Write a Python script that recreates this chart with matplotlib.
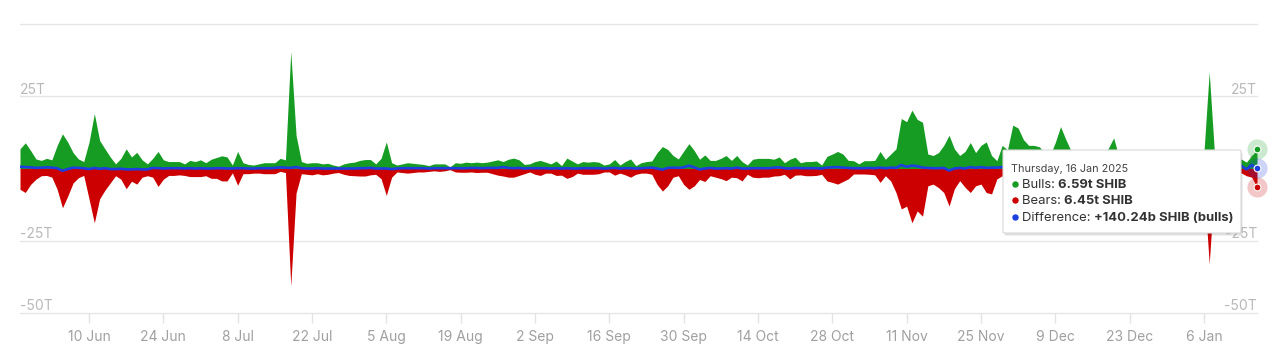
import matplotlib
matplotlib.use("Agg")
import matplotlib.pyplot as plt
from matplotlib.patches import FancyBboxPatch
from matplotlib.lines import Line2D
import numpy as np
import pandas as pd

# daily values in trillions of SHIB, 28 May 2024 -> 16 Jan 2025
start_date = "2024-05-28"

bulls = [
    6.8, 8.9, 6.2, 3.3, 2.8, 3.5, 3.0, 8.0, 12.0, 9.1,
    5.5, 3.3, 2.4, 9.1, 19.0, 9.7, 6.8, 4.0, 1.6, 3.5,
    6.8, 4.0, 5.6, 3.0, 1.6, 3.5, 5.9, 3.0, 2.4, 2.4,
    2.4, 1.6, 2.8, 2.4, 3.0, 2.0, 3.2, 3.8, 4.4, 4.0,
    1.2, 5.9, 2.0, 1.4, 1.2, 1.6, 2.0, 2.0, 2.0, 3.5,
    3.0, 40.5, 11.5, 2.4, 1.8, 2.0, 2.0, 1.6, 1.8, 1.2,
    0.8, 1.6, 2.0, 2.2, 2.8, 3.1, 3.1, 1.6, 3.5, 9.2,
    2.0, 1.2, 1.6, 2.0, 1.8, 1.6, 1.4, 1.0, 1.6, 1.6,
    1.6, 0.6, 2.0, 1.8, 2.2, 2.0, 2.2, 2.0, 2.2, 2.6,
    3.0, 2.4, 3.2, 3.6, 3.0, 1.4, 1.6, 2.4, 2.8, 2.2,
    1.6, 2.6, 1.0, 3.6, 2.6, 1.6, 2.4, 2.2, 2.4, 2.2,
    1.2, 1.6, 3.1, 1.2, 2.4, 3.3, 1.0, 2.0, 2.4, 2.6,
    5.5, 7.6, 6.6, 4.5, 3.3, 6.0, 8.6, 6.2, 3.2, 4.7,
    2.8, 2.8, 3.5, 4.5, 2.8, 4.5, 2.4, 1.2, 3.2, 3.5,
    3.5, 3.5, 3.2, 4.0, 2.0, 3.2, 3.9, 2.0, 2.4, 2.4,
    2.6, 1.2, 4.2, 5.0, 5.9, 5.0, 2.8, 2.7, 1.6, 2.7,
    2.7, 2.8, 5.9, 3.2, 5.0, 6.8, 17.3, 16.2, 20.2, 17.0,
    16.0, 5.0, 4.5, 5.5, 8.0, 11.5, 6.8, 4.5, 5.9, 9.0,
    5.5, 8.0, 9.2, 4.5, 2.7, 8.0, 6.5, 15.0, 14.0, 10.0,
    8.0, 8.0, 7.5, 5.5, 4.5, 9.0, 14.5, 10.0, 6.0, 4.0,
    3.5, 4.0, 3.0, 4.0, 5.0, 7.0, 10.6, 4.0, 3.0, 3.5,
    2.5, 3.0, 4.0, 3.0, 2.5, 3.5, 3.0, 2.5, 3.0, 4.0,
    3.0, 2.5, 4.0, 5.5, 33.4, 5.0, 3.0, 2.5, 3.0, 2.0,
    3.3, 2.2, 4.4, 6.59,
]

bears = [
    7.2, 8.3, 5.5, 3.7, 2.5, 2.4, 3.0, 7.2, 13.6, 9.5,
    5.0, 3.2, 2.4, 10.5, 18.8, 10.5, 7.5, 5.0, 2.5, 3.7,
    7.0, 4.4, 5.4, 3.0, 2.5, 3.0, 6.2, 3.7, 2.4, 2.4,
    2.2, 2.4, 2.8, 2.8, 2.8, 2.5, 3.4, 3.4, 4.3, 4.3,
    1.5, 5.8, 1.8, 1.8, 1.6, 1.6, 1.8, 1.8, 1.8, 1.0,
    1.4, 40.6, 8.5, 1.8, 2.0, 2.2, 1.8, 2.2, 2.0, 1.6,
    1.4, 2.0, 2.4, 2.5, 2.6, 2.6, 2.2, 2.0, 3.5, 9.3,
    3.0, 1.2, 1.4, 1.6, 1.4, 1.2, 1.2, 1.0, 0.8, 1.0,
    0.8, 0.4, 1.2, 1.3, 1.3, 1.2, 1.4, 1.3, 1.3, 1.8,
    2.3, 2.6, 3.0, 3.0, 2.4, 1.8, 1.2, 2.0, 2.4, 1.6,
    1.6, 2.4, 2.3, 3.4, 2.8, 1.6, 2.0, 2.0, 2.0, 1.8,
    1.2, 1.2, 2.3, 1.6, 2.2, 3.0, 2.0, 1.6, 1.6, 2.0,
    5.5, 7.8, 6.0, 3.0, 2.5, 5.5, 7.2, 6.0, 3.8, 4.5,
    2.5, 3.0, 3.5, 4.2, 3.0, 3.2, 4.3, 2.0, 3.0, 3.2,
    3.0, 3.0, 2.6, 2.5, 2.0, 3.6, 2.3, 2.2, 2.5, 2.5,
    2.4, 2.0, 4.3, 4.8, 5.4, 4.5, 3.6, 1.9, 1.9, 1.9,
    2.0, 2.2, 4.8, 2.5, 4.3, 8.3, 14.0, 13.0, 18.8, 14.7,
    16.5, 6.0, 5.4, 6.6, 8.3, 13.0, 7.0, 4.2, 6.5, 8.3,
    6.0, 5.4, 8.3, 8.8, 3.6, 2.5, 6.0, 12.0, 11.0, 8.0,
    7.0, 6.5, 6.0, 5.0, 4.0, 7.0, 11.0, 8.0, 5.0, 3.5,
    3.0, 3.5, 3.0, 3.5, 4.5, 6.0, 9.0, 3.5, 3.0, 3.0,
    2.5, 3.0, 3.5, 3.0, 2.5, 3.0, 3.0, 2.5, 3.0, 3.5,
    3.0, 2.5, 3.5, 5.0, 33.0, 5.0, 3.0, 2.5, 3.0, 2.5,
    1.5, 2.5, 3.0, 6.45,
]

diff = [
    0.6, 0.5, 0.4, 0.2, 0.3, 0.4, 0.3, 0.1, -0.8, -0.2,
    0.3, 0.2, 0.1, -0.2, 0.2, -0.1, 0.1, -0.2, -0.2, -0.1,
    -0.3, -0.3, -0.2, -0.3, -0.3, 0.2, 0.1, 0.0, 0.1, 0.1,
    0.1, 0.0, 0.1, 0.0, 0.1, 0.0, 0.0, 0.1, 0.1, 0.0,
    0.0, 0.1, 0.1, 0.0, 0.0, 0.1, 0.1, 0.1, 0.2, 0.4,
    0.3, 0.2, 0.5, 0.1, 0.0, 0.0, 0.1, 0.0, 0.0, 0.0,
    0.0, 0.0, 0.0, 0.0, 0.1, 0.1, 0.2, 0.0, 0.0, 0.0,
    -0.2, 0.0, 0.1, 0.1, 0.1, 0.1, 0.1, 0.0, 0.1, 0.1,
    0.1, 0.1, 0.1, 0.1, 0.1, 0.2, 0.2, 0.1, 0.2, 0.2,
    0.2, 0.5, 0.2, 0.1, 0.2, 0.0, 0.1, 0.1, 0.1, 0.1,
    0.0, 0.1, 0.0, 0.1, 0.0, 0.0, 0.1, 0.1, 0.1, 0.1,
    0.0, 0.1, 0.2, 0.0, 0.1, 0.1, 0.0, 0.1, 0.2, 0.3,
    0.0, -0.4, 0.2, 0.3, 0.2, 0.4, 1.0, 0.4, -0.3, 0.0,
    0.2, 0.0, 0.0, 0.1, 0.0, 0.3, 0.0, 0.0, 0.1, 0.1,
    0.1, 0.1, 0.3, 0.4, 0.1, 0.0, 0.2, 0.1, 0.1, 0.1,
    0.1, 0.0, 0.3, 0.4, 0.5, 0.3, 0.2, 0.1, 0.1, 0.1,
    0.2, 0.1, 0.3, 0.1, 0.3, 0.2, 1.2, 0.6, 1.0, 0.8,
    0.3, 0.2, 0.1, 0.1, 0.2, -0.7, 0.0, 0.2, 0.0, 0.5,
    0.2, 0.5, 0.2, 0.3, 0.3, 0.5, 0.5, 0.5, 0.3, 0.4,
    0.3, 0.3, 0.2, 0.2, 0.3, 0.4, 0.3, 0.3, 0.2, 0.2,
    0.2, 0.3, 0.2, 0.3, 0.3, 0.4, 0.4, 0.3, 0.2, 0.2,
    0.2, 0.2, 0.3, 0.2, 0.2, 0.3, 0.2, 0.2, 0.2, 0.3,
    0.2, 0.2, 0.3, 0.4, 0.4, 0.2, 0.2, 0.2, 0.2, -0.3,
    1.0, -0.3, 1.2, 0.14,
]

tick_dates = ["2024-06-10", "2024-06-24", "2024-07-08", "2024-07-22", "2024-08-05",
              "2024-08-19", "2024-09-02", "2024-09-16", "2024-09-30", "2024-10-14",
              "2024-10-28", "2024-11-11", "2024-11-25", "2024-12-09", "2024-12-23",
              "2025-01-06"]
y_levels = [50, 25, 0, -25, -50]
y_labels = {25: "25T", 0: "0", -25: "-25T", -50: "-50T"}

GREEN = "#169c22"
RED = "#cc0000"
BLUE = "#1d3fe0"

plt.rcParams["font.family"] = ["Inter", "DejaVu Sans"]

dates = pd.date_range(start_date, periods=len(bulls), freq="D")
bulls = np.array(bulls)
bears = -np.array(bears)
diff = np.array(diff)

fig = plt.figure(figsize=(12.8, 3.49), dpi=100)
ax = fig.add_axes([20 / 1280, 1 - 313 / 349, 1237 / 1280, 289 / 349])

for lv in y_levels:
    ax.axhline(lv, color="#e6e6e6", lw=1, zorder=0, clip_on=False)

ax.fill_between(dates, 0, bulls, color=GREEN, lw=0, zorder=2)
ax.fill_between(dates, bears, 0, color=RED, lw=0, zorder=2)
ax.plot(dates, diff, color=BLUE, lw=1.9, zorder=3)

ax.set_xlim(dates[0], dates[-1])
ax.set_ylim(-50, 50)
for s in ax.spines.values():
    s.set_visible(False)
ax.set_yticks([])

ticks = pd.to_datetime(tick_dates)
ax.set_xticks(ticks)
ax.set_xticklabels([f"{d.day} {d.strftime('%b')}" for d in ticks])
ax.tick_params(axis="x", length=7, color="#e3e3e3", width=1, labelsize=10,
               labelcolor="#a0a0a0", pad=5)

for lv, lab in y_labels.items():
    ax.annotate(lab, xy=(0, lv), xycoords=("axes fraction", "data"), xytext=(0, 1.8),
                textcoords="offset points", ha="left", va="baseline", fontsize=10,
                color="#b8b8b8", zorder=1)
    ax.annotate(lab, xy=(1, lv), xycoords=("axes fraction", "data"), xytext=(0, 1.8),
                textcoords="offset points", ha="right", va="baseline", fontsize=10,
                color="#b8b8b8", zorder=1)

# hover markers at the last point
last = dates[-1]
for val, col in [(bulls[-1], GREEN), (diff[-1], BLUE), (bears[-1], RED)]:
    ax.scatter([last], [val], s=210, color=col, alpha=0.22, lw=0, zorder=6, clip_on=False)
    ax.scatter([last], [val], s=24, color=col, edgecolor="white", lw=0.8, zorder=7, clip_on=False)

# tooltip
W, H = 1280, 349
bx0, by0, bx1, by1 = 1003, 150, 1241, 233
shadow = FancyBboxPatch((bx0 / W + 1.5 / W, 1 - (by1 + 2.5) / H), (bx1 - bx0) / W, (by1 - by0) / H,
                        boxstyle="round,pad=0,rounding_size=0.002", transform=fig.transFigure,
                        facecolor="#000000", alpha=0.12, lw=0, zorder=9)
box = FancyBboxPatch((bx0 / W, 1 - by1 / H), (bx1 - bx0) / W, (by1 - by0) / H,
                     boxstyle="round,pad=0,rounding_size=0.002", transform=fig.transFigure,
                     facecolor="white", edgecolor="#d8d8d8", lw=0.8, zorder=10)
fig.patches.extend([shadow, box])

fig.text(1011 / W, 1 - 169 / H, "Thursday, 16 Jan 2025", fontsize=7.8, color="#444444",
         va="center", ha="left", zorder=11)

renderer = fig.canvas.get_renderer()
rows = [(188, GREEN, "Bulls: ", "6.59t SHIB"),
        (204, RED, "Bears: ", "6.45t SHIB"),
        (221, BLUE, "Difference: ", "+140.24b SHIB (bulls)")]
for yy, col, name, val in rows:
    yf = 1 - yy / H
    fig.add_artist(Line2D([1015 / W], [yf + 0.012], marker="o", markersize=3.6, color=col,
                          lw=0, transform=fig.transFigure, zorder=11))
    t = fig.text(1022 / W, yf, name, fontsize=9.4, color="#333333", ha="left",
                 va="baseline", zorder=11)
    bb = t.get_window_extent(renderer=renderer)
    fig.text(bb.x1 / fig.bbox.width, yf, val, fontsize=9.4, fontweight="bold",
             color="#333333", ha="left", va="baseline", zorder=11)

fig.savefig("out.png", dpi=100)
